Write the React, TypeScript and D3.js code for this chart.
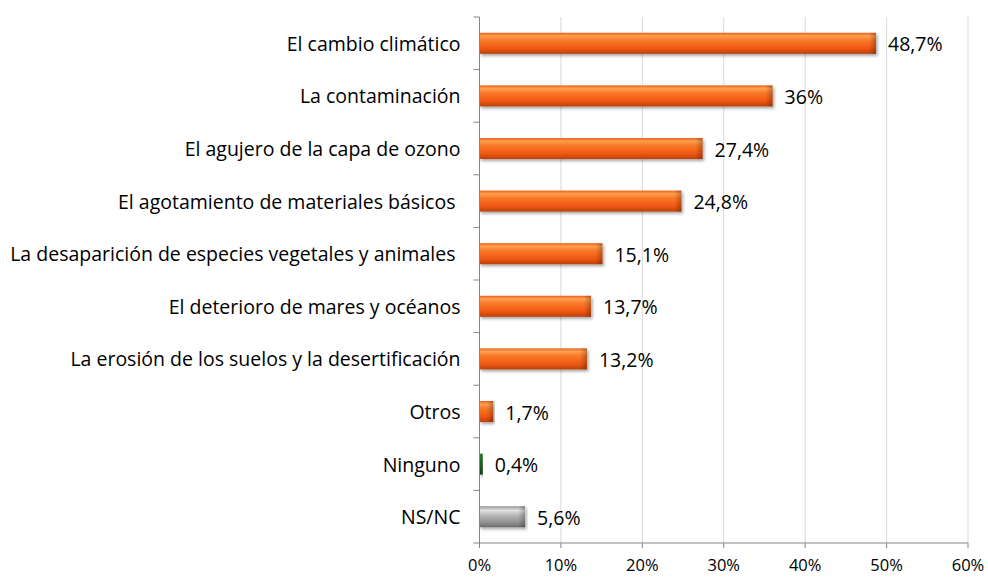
import React from "react";
import * as d3 from "d3";

const categories = [
  "El cambio climático",
  "La contaminación",
  "El agujero de la capa de ozono",
  "El agotamiento de materiales básicos ",
  "La desaparición de especies vegetales y animales ",
  "El deterioro de mares y océanos",
  "La erosión de los suelos y la desertificación",
  "Otros",
  "Ninguno",
  "NS/NC",
];
const values = [48.7, 36, 27.4, 24.8, 15.1, 13.7, 13.2, 1.7, 0.4, 5.6];
const valueLabels = ["48,7%", "36%", "27,4%", "24,8%", "15,1%", "13,7%", "13,2%", "1,7%", "0,4%", "5,6%"];
const barKinds = ["orange", "orange", "orange", "orange", "orange", "orange", "orange", "orange", "green", "gray"];
const xTicks = [0, 10, 20, 30, 40, 50, 60];

const W = 988;
const H = 577;
const M = { left: 479.5, right: 20, top: 17, bottom: 34 };

export default function App() {
  const x = d3.scaleLinear().domain([0, 60]).range([M.left, W - M.right]);
  const y = d3.scaleBand<string>().domain(categories).range([M.top, H - M.bottom]).paddingInner(0.6).paddingOuter(0.3);
  const band = (H - M.bottom - M.top) / categories.length;
  const font = "'Open Sans', Lato, sans-serif";

  return (
    <svg width={W} height={H} style={{ position: "absolute", left: 0, top: 0, background: "#fff" }}>
      <defs>
        <linearGradient id="g-orange" x1="0" y1="0" x2="0" y2="1">
          <stop offset="0" stopColor="#E8601C" />
          <stop offset="0.15" stopColor="#FFA050" />
          <stop offset="0.35" stopColor="#F97A2A" />
          <stop offset="0.75" stopColor="#F05612" />
          <stop offset="1" stopColor="#B8420C" />
        </linearGradient>
        <linearGradient id="g-green" x1="0" y1="0" x2="0" y2="1">
          <stop offset="0" stopColor="#2E7A2E" />
          <stop offset="0.5" stopColor="#1E5E1E" />
          <stop offset="1" stopColor="#123F12" />
        </linearGradient>
        <linearGradient id="g-gray" x1="0" y1="0" x2="0" y2="1">
          <stop offset="0" stopColor="#9A9A9A" />
          <stop offset="0.2" stopColor="#E0E0E0" />
          <stop offset="0.45" stopColor="#B5B5B5" />
          <stop offset="0.8" stopColor="#8E8E8E" />
          <stop offset="1" stopColor="#6A6A6A" />
        </linearGradient>
        <linearGradient id="g-end" x1="0" y1="0" x2="1" y2="0">
          <stop offset="0" stopColor="#000" stopOpacity="0" />
          <stop offset="1" stopColor="#000" stopOpacity="0.25" />
        </linearGradient>
        <filter id="shadow" x="-5%" y="-30%" width="110%" height="170%">
          <feDropShadow dx="1.5" dy="2" stdDeviation="1.5" floodColor="#000" floodOpacity="0.35" />
        </filter>
      </defs>

      {xTicks.map((t) => (
        <line key={"g" + t} x1={x(t)} x2={x(t)} y1={M.top} y2={H - M.bottom} stroke="#D9D9D9" strokeWidth={1} />
      ))}

      {categories.map((c, i) => {
        const bw = x(values[i]) - x(0);
        const by = (y(c) as number);
        const bh = y.bandwidth();
        return (
          <g key={c} filter="url(#shadow)">
            <rect x={x(0)} y={by} width={bw} height={bh} fill={`url(#g-${barKinds[i]})`} />
            {barKinds[i] !== "green" && (
              <rect x={x(0) + Math.max(bw - 7, 0)} y={by} width={Math.min(7, bw)} height={bh} fill="url(#g-end)" />
            )}
          </g>
        );
      })}

      <line x1={x(0)} x2={x(0)} y1={M.top} y2={H - M.bottom} stroke="#868686" strokeWidth={1} />
      <line x1={x(0)} x2={x(60)} y1={H - M.bottom} y2={H - M.bottom} stroke="#868686" strokeWidth={1} />
      {d3.range(categories.length + 1).map((i) => (
        <line key={"yt" + i} x1={x(0) - 6} x2={x(0)} y1={M.top + i * band} y2={M.top + i * band} stroke="#868686" />
      ))}
      {xTicks.map((t) => (
        <line key={"xt" + t} x1={x(t)} x2={x(t)} y1={H - M.bottom} y2={H - M.bottom + 5} stroke="#868686" />
      ))}

      {categories.map((c) => (
        <text
          key={"l" + c}
          x={x(0) - 19}
          y={(y(c) as number) + y.bandwidth() / 2 + 7.5}
          textAnchor="end"
          fontFamily={font}
          fontSize={19.5}
          fill="#000"
          style={{ whiteSpace: "pre" }}
        >
          {c}
        </text>
      ))}

      {categories.map((c, i) => (
        <text
          key={"v" + c}
          x={x(values[i]) + 12}
          y={(y(c) as number) + y.bandwidth() / 2 + 8}
          fontFamily={font}
          fontSize={19.5}
          fill="#000"
        >
          {valueLabels[i]}
        </text>
      ))}

      {xTicks.map((t) => (
        <text
          key={"xl" + t}
          x={x(t)}
          y={571}
          textAnchor="middle"
          fontFamily={font}
          fontSize={16.5}
          fill="#000"
        >
          {t + "%"}
        </text>
      ))}
    </svg>
  );
}
